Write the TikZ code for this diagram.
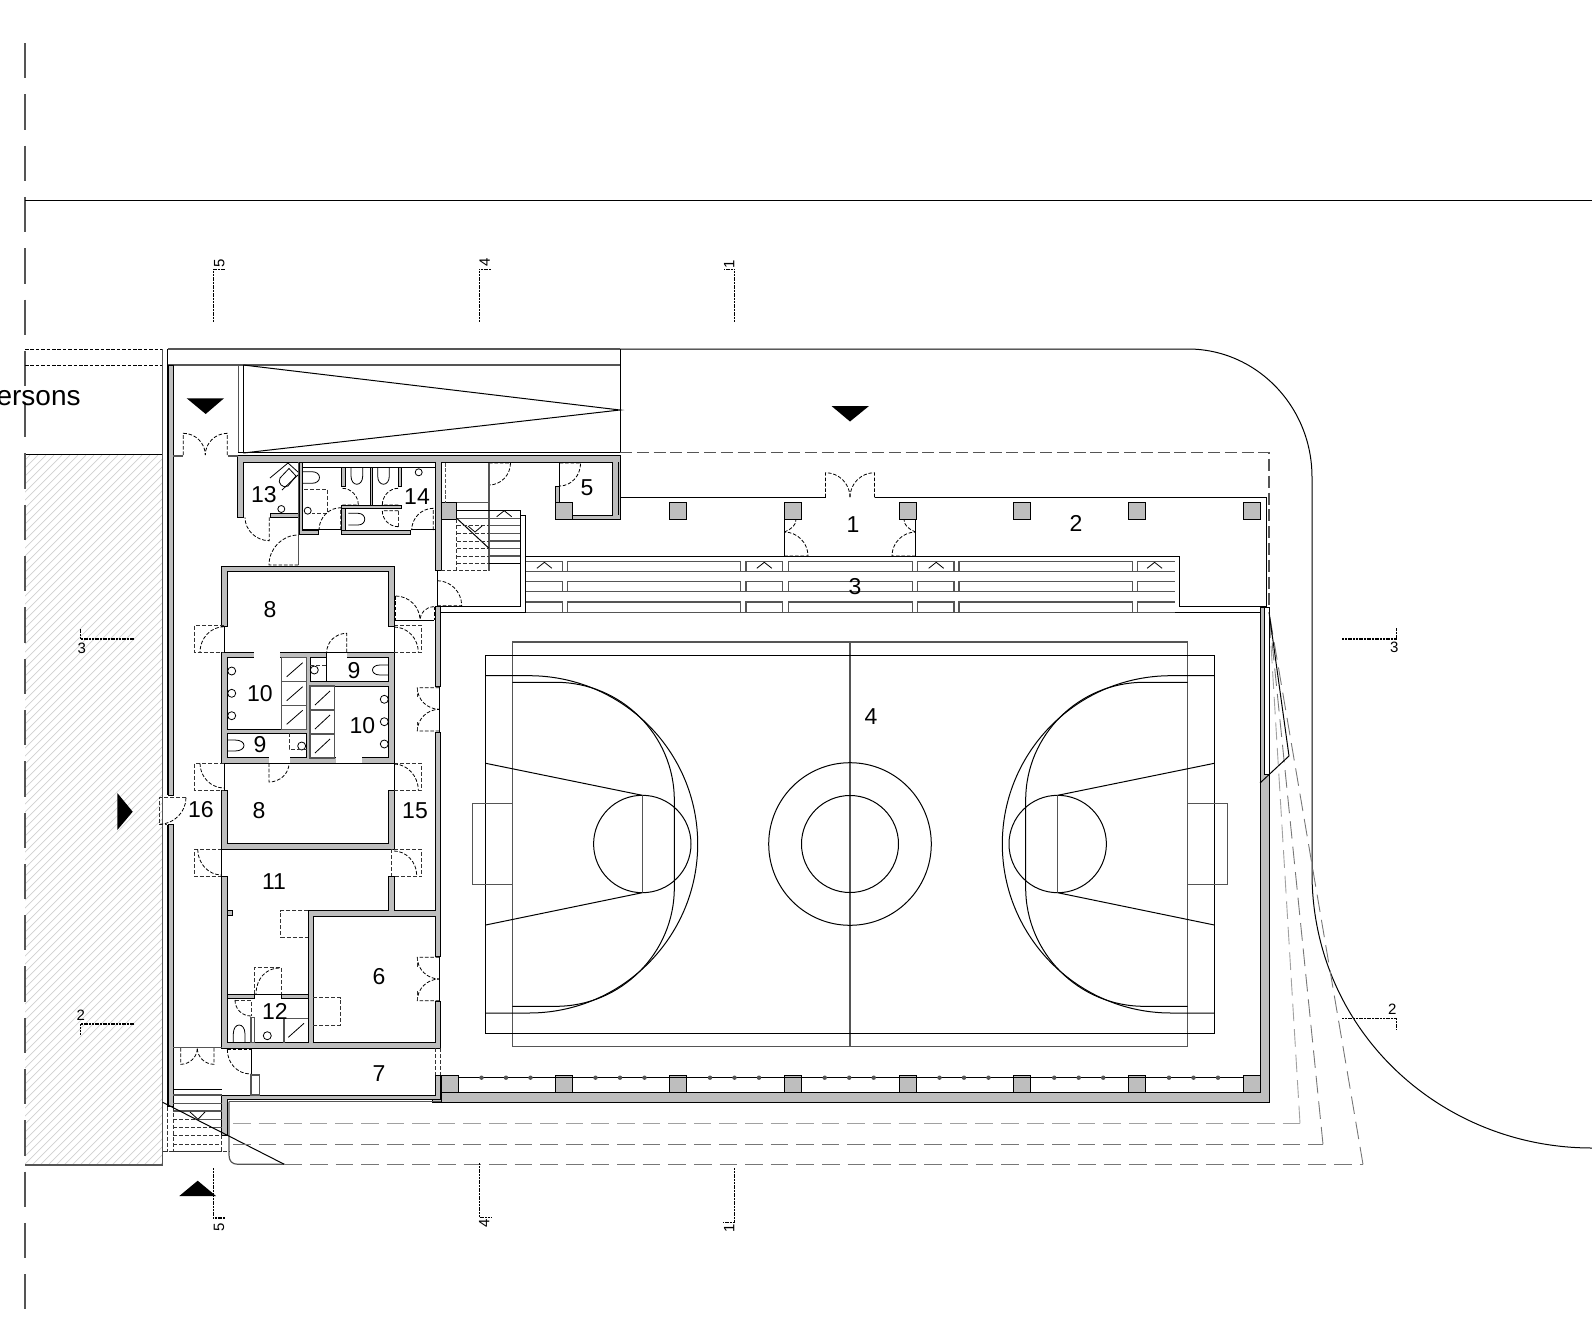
\documentclass[tikz,border=0pt]{standalone}
\usepackage{fontspec}
\setmainfont{Liberation Sans}
\definecolor{wallgrey}{HTML}{BEBEBE}
\definecolor{linegrey}{HTML}{555555}
\definecolor{hatchgrey}{HTML}{D0D0D0}
\tikzset{
  wall/.style={draw=black,fill=wallgrey,line width=0.42pt,line join=miter},
  thinline/.style={draw=black,line width=0.5pt},
  greyline/.style={draw=linegrey,line width=0.6pt},
  swing/.style={draw=black,line width=0.4pt,dash pattern={on 1.8pt off 0.9pt}},
  dashbox/.style={draw=black!80,line width=0.4pt,dash pattern={on 2pt off 1pt}},
  fixture/.style={draw=black,line width=0.4pt},
  sectionline/.style={draw=black,line width=0.7pt,dash pattern={on 1pt off 0.35pt}},
  roofdash/.style={draw=linegrey,line width=0.6pt,dash pattern={on 6pt off 2.4pt}},
  fandash/.style={draw=linegrey!80,line width=0.45pt,dash pattern={on 8.8pt off 4pt}},
  roomlabel/.style={font=\fontsize{11.5}{13}\selectfont,inner sep=0pt,yshift=-0.5pt},
  seclabel/.style={font=\fontsize{7.5}{8}\selectfont,inner sep=0pt},
  marker/.style={fill=black,draw=none},
}
% quarter door: hinge, leaf tip, swing end
\newcommand{\door}[6]{\draw[swing] (#1,#2) -- (#3,#4) .. controls (#3+0.55*#5-0.55*#1,#4+0.55*#6-0.55*#2) and (#5+0.55*#3-0.55*#1,#6+0.55*#4-0.55*#2) .. (#5,#6);}
\begin{document}
\begin{tikzpicture}[x=0.5pt,y=0.5pt,yscale=-1,xscale=1]
    \useasboundingbox (0,0) rectangle (1592,1339);

    %Hatched neighbour plot
    \begin{scope}
    \clip (25,454.3) rectangle (162.7,1165);
    \foreach \h in {-704,-696,...,160} \draw[draw=hatchgrey,line width=0.35pt] (\h,1165) -- (\h+710,455);
    \end{scope}
    \draw[thinline] (25,454.3) -- (162.7,454.3);
    \draw[greyline] (25,1165) -- (162.7,1165);

    %Axis and street line
    \draw[draw=linegrey,line width=0.6pt,dash pattern={on 17.65pt off 8pt}] (25,43) -- (25,1309);
    \draw[thinline] (25,200.5) -- (1592,200.5);

    %Site outline
    \draw[thinline] (620,349) -- (1188,349) .. controls (1256,349) and (1312,406) .. (1312,477) -- (1312,873) .. controls (1312,1030) and (1440,1148) .. (1592,1148);

    %Entrance strip
    \draw[swing] (25,349) -- (162.3,349) (25,365) -- (162.3,365);
    \draw[greyline] (162.5,349) -- (162.5,1165);
    \draw[thinline] (167.7,349) -- (167.7,795);
    \draw[thinline] (167.7,824.7) -- (167.7,1106.7);
    \draw[greyline] (167.7,349) -- (620,349);
    \draw[greyline] (167.7,365) -- (620,365);
    \draw[thinline] (620,349) -- (620,452.7);
    \draw[wall] (168.3,365) rectangle (173.3,795);
    \draw[wall] (168.3,824.7) rectangle (173.3,1106.7);

    %Ramp
    \draw[greyline] (238.3,365) -- (238.3,453);
    \draw[thinline] (243.3,365) -- (243.3,453);
    \draw[thinline] (243.3,365) -- (620,410) -- (243.3,453);
    \draw[thinline] (238,452.7) -- (620,452.7);

    %Wall rooms 13, 14, 5
    \draw[wall] (237.7,517.3) -- (237.7,455.7) -- (620,455.7) -- (620,519.3) -- (572,519.3) -- (572,515) -- (612,515) -- (612,462) -- (441,462) -- (441,570.7) -- (435,570.7) -- (435,462) -- (243.3,462) -- (243.3,517.3) -- cycle;
    \draw[thinline] (618,462) -- (618,515);
    \draw[wall] (270,513.3) rectangle (298.3,517.3);
    \draw[wall] (299,534) -- (299,462) -- (302.7,462) -- (302.7,530) -- (318,530) -- (318,534) -- cycle;
    \draw[thinline] (302.7,467.3) -- (435,467.3);
    \draw[greyline] (298.3,462) -- (298.3,565);
    \draw[wall] (341.7,467.3) rectangle (345,486.7);
    \draw[wall] (370,467.3) rectangle (372.7,505);
    \draw[wall] (398.3,467.3) rectangle (401.7,486.7);
    \draw[wall] (341.7,505) rectangle (401.7,508.3);
    \draw[wall] (341.7,508.3) rectangle (345,530);
    \draw[wall] (341.7,530) rectangle (410.7,534);
    \draw[thinline] (410.7,529.5) -- (435,529.5);
    \draw[thinline] (302.7,529.5) -- (341.7,529.5);

    %Sanitary fittings rooms 13, 14
    \draw[fixture] (302.7,471.7) -- (312,471.7) .. controls (322,471.7) and (322,483.3) .. (312,483.3) -- (302.7,483.3);
    \draw[fixture] (351,467.3) -- (351,476) .. controls (351,487) and (362.7,487) .. (362.7,476) -- (362.7,467.3);
    \draw[fixture] (377.7,467.3) -- (377.7,476) .. controls (377.7,487) and (389.3,487) .. (389.3,476) -- (389.3,467.3);
    \draw[fixture] (348.3,513.3) -- (358,513.3) .. controls (367,513.3) and (367,525) .. (358,525) -- (348.3,525);
    \draw[fixture] (281.3,509) circle[radius=3.5];
    \draw[fixture] (307.7,510.7) circle[radius=3.5];
    \draw[fixture] (418.7,472.3) circle[radius=3.5];
    \draw[fixture] (270,478) -- (288,463) (282,490) -- (298,475) (288,463) -- (298,472);
    \draw[fixture] (280,478) -- (289,468.5) -- (296,476) -- (288,486) .. controls (283,489) and (277,483) .. (280,478);
    \draw[dashbox] (304,489) -- (327.3,489) -- (327.3,513.3) -- (312,513.3);

    %Doors rooms 13, 14, 5
    \door{269.3}{517.3}{269.3}{540.7}{245}{517.3}
    \door{340.7}{530}{340.7}{507.7}{319}{530}
    \door{342.3}{505}{358.3}{505}{342.3}{488.3}
    \door{398.3}{505}{382.3}{505}{398.3}{488.3}
    \door{398.3}{510.7}{382.3}{510.7}{398.3}{526.7}
    \draw[dashbox] (398.3,510.7) -- (398.3,526.7);
    \door{433.3}{530}{433.3}{508.3}{411.7}{530}
    \door{298.3}{565}{269}{565}{298.3}{535}
    \door{489}{463}{510.5}{463}{489}{485}
    \door{559.7}{463}{580.6}{463}{559.7}{486}
    \draw[thinline] (559.7,463) -- (559.7,486);
    \draw[wall] (555,486) rectangle (559.7,502.3);

    %Double doors north
    \door{183.3}{455}{183.3}{433.3}{205.3}{455}
    \door{227.3}{455}{227.3}{433.3}{205.3}{455}
    \draw[greyline] (173.3,456) -- (183.3,456) (228,456) -- (238.3,456);
    \door{825.5}{497.3}{825.5}{472.7}{850}{497.3}
    \door{874.5}{497.3}{874.5}{472.7}{850}{497.3}

    %Roof and gallery outline
    \draw[roofdash] (620,452.7) -- (1269,452.7) -- (1269,607);
    \draw[thinline] (620,497.3) -- (825.5,497.3) (874.5,497.3) -- (1266,497.3) -- (1266,606.7) -- (1179.6,606.7) -- (1179.6,556) -- (525.7,556);
    \draw[thinline] (441,612.5) -- (1260,612.5);

    %Columns
    \foreach \cx in {555,669.5,784.2,899,1013.7,1128.5,1243} \draw[wall] (\cx,502.3) rectangle (\cx+17,519.3);
    \foreach \cx in {441,555,669.5,784.2,899,1013.7,1128.5,1243} \draw[wall] (\cx,1075.7) rectangle (\cx+17,1092.7);
    \draw[thinline] (458,1077.7) -- (1243,1077.7);
    \foreach \cx in {458,572,686.5,801.2,916,1030.7,1145.5} \foreach \k in {1,2,3} \fill[linegrey] (\cx+\k*24.5-1,1077.7) circle[radius=2.2];

    %Foyer doors
    \draw[thinline] (784.2,519.3) -- (784.2,556) (915.8,519.3) -- (915.8,556);
    \door{784.2}{556}{808}{556}{784.2}{532}
    \draw[swing] (784.2,532) .. controls (792,529) and (796,525) .. (796,519.3);
    \door{915.8}{556}{892}{556}{915.8}{532}
    \draw[swing] (915.8,532) .. controls (908,529) and (904,525) .. (904,519.3);

    %Stand
    \foreach \ry in {571.3,591.7,612.3} \draw[greyline] (525.7,\ry) -- (1174.5,\ry);
    \foreach \ra/\rb in {561.7/571.3,581.7/591.7,602/612.3} {
      \draw[greyline] (525.7,\ra) -- (562.2,\ra) -- (562.2,\rb);
      \draw[greyline] (567.3,\rb) -- (567.3,\ra) -- (740.3,\ra) -- (740.3,\rb);
      \draw[greyline] (746,\rb) -- (746,\ra) -- (782.7,\ra) -- (782.7,\rb);
      \draw[greyline] (788.3,\rb) -- (788.3,\ra) -- (912.2,\ra) -- (912.2,\rb);
      \draw[greyline] (917.3,\rb) -- (917.3,\ra) -- (954,\ra) -- (954,\rb);
      \draw[greyline] (959,\rb) -- (959,\ra) -- (1132.7,\ra) -- (1132.7,\rb);
      \draw[greyline] (1137.8,\rb) -- (1137.8,\ra) -- (1174.5,\ra);
    }
    \foreach \cx in {544.4,764.3,936.2,1154.6} \draw[fixture] (\cx-7.5,568.3) -- (\cx,562.3) -- (\cx+7.5,568.3);

    %Main stair
    \draw[wall] (441,502.7) rectangle (456.7,519);
    \draw[swing,draw=linegrey] (445.7,463) -- (445.7,502.7);
    \draw[greyline] (489,462.7) -- (489,570.7);
    \draw[greyline] (456.7,502.7) -- (489,502.7);
    \draw[thinline] (456.7,510.7) -- (520,510.7) -- (520,606.7) -- (437.3,606.7) -- (437.3,570.7);
    \foreach \sy in {518.3,525.7,533.3,541,548.3} \draw[greyline] (489,\sy) -- (520,\sy);
    \foreach \sy in {556,563.3} \draw[greyline] (489,\sy) -- (520,\sy);
    \draw[greyline] (456.7,518.3) -- (489,518.3);
    \draw[thinline] (489,563.3) -- (520,563.3);
    \draw[thinline] (456.7,518.3) -- (489,548.3);
    \draw[dashbox] (456.7,519) -- (456.7,570.7) (441,570.7) -- (489,570.7);
    \foreach \sy in {525.7,533.3,541,548.3,556,563.3} \draw[dashbox] (456.7,\sy) -- (489,\sy);
    \draw[fixture] (468,526) -- (475,532) -- (482,526);
    \draw[fixture] (496.7,516.7) -- (504.2,510.7) -- (511.7,516.7);
    \draw[thinline] (520,515) -- (525.7,515) -- (525.7,612.5);
    \door{437.3}{605.7}{461.7}{605.7}{437.3}{580.7}

    %Room 8 north
    \draw[wall] (221.7,626) -- (221.7,566) -- (394.3,566) -- (394.3,626) -- (388.7,626) -- (388.7,571.7) -- (227.3,571.7) -- (227.3,626) -- cycle;

    %Core with rooms 9, 10
    \draw[wall,even odd rule] (221.7,652.3) -- (394.3,652.3) -- (394.3,763.3) -- (221.7,763.3) -- cycle
      (227.3,657.7) rectangle (306.7,729)
      (227.3,733.3) rectangle (306.7,757.7)
      (310,657.7) rectangle (388.7,681.7)
      (310,686) rectangle (388.7,757.7);
    \fill[white] (253.8,651) rectangle (279.6,658.2);
    \fill[white] (326.4,651) rectangle (346.9,658.2);
    \fill[white] (268.7,757.2) rectangle (289.6,764);
    \fill[white] (336.4,757.2) rectangle (362.3,764);
    \draw[thinline] (326,652.3) -- (347.3,652.3) (268.3,763.3) -- (290,763.3) (336,763.3) -- (362.7,763.3);
    \draw[thinline] (326.3,652.3) -- (326.3,681.7);
    \foreach \a in {657.7,681.7,705.3} {
      \draw[greyline] (281.7,\a) rectangle (306.7,\a+24);
      \draw[fixture] (286.7,\a+19) -- (302.7,\a+5);
    }
    \foreach \a in {686,710,734} {
      \draw[greyline] (310,\a) rectangle (334.3,\a+24);
      \draw[fixture] (315,\a+19) -- (330,\a+5);
    }
    \foreach \a in {671,693.3,715.7} \draw[fixture] (231.7,\a) circle[radius=4];
    \foreach \a in {699.3,721.7,744} \draw[fixture] (384.3,\a) circle[radius=4];
    \draw[fixture] (314.3,670) circle[radius=4];
    \draw[fixture] (301.7,746) circle[radius=4];
    \draw[fixture] (388.7,665) -- (380,665) .. controls (370,665) and (370,675) .. (380,675) -- (388.7,675);
    \draw[fixture] (227.3,740) -- (235,740) .. controls (247,740) and (247,751) .. (235,751) -- (227.3,751);
    \draw[dashbox] (310,665) -- (326,665);
    \draw[dashbox] (289.3,733.3) -- (289.3,749.3) -- (306.7,749.3);
    \door{346.7}{652.3}{346.7}{633.3}{326.7}{652.3}
    \door{269}{763.3}{269}{782}{289}{763.3}

    %Room 8 south
    \draw[wall] (221.7,790) -- (227.3,790) -- (227.3,843.3) -- (388.7,843.3) -- (388.7,790) -- (394.3,790) -- (394.3,849.3) -- (221.7,849.3) -- cycle;

    %Doors of rooms 8
    \draw[dashbox] (224,625.3) -- (194.3,625.3) -- (194.3,652.3) -- (224,652.3);
    \draw[swing] (224,626.7) .. controls (211,626.7) and (200,638) .. (200,652.3);
    \draw[thinline] (224,626) -- (224,652.3);
    \draw[dashbox] (394.3,625.3) -- (421.7,625.3) -- (421.7,652.3) -- (394.3,652.3);
    \draw[swing] (394.3,627) .. controls (407,627) and (418.3,638) .. (418.3,652.3);
    \draw[thinline] (394.3,626) -- (394.3,652.3);
    \draw[dashbox] (224,763.3) -- (194.3,763.3) -- (194.3,790) -- (224,790);
    \draw[swing] (200,763.3) .. controls (200,777) and (211,788) .. (224,788);
    \draw[thinline] (224,763.3) -- (224,790);
    \draw[dashbox] (394.3,763.3) -- (421.7,763.3) -- (421.7,790) -- (394.3,790);
    \draw[swing] (394.3,764) .. controls (407,764) and (418.3,776) .. (418.3,790);
    \draw[thinline] (394.3,763.3) -- (394.3,790);
    \draw[dashbox] (221.7,849.3) -- (194.3,849.3) -- (194.3,876.7) -- (221.7,876.7);
    \draw[swing] (197.7,849.3) .. controls (197.7,863) and (208,875) .. (221.7,875);
    \draw[thinline] (221.7,849.3) -- (221.7,876);
    \draw[dashbox] (391.7,876.7) -- (391.7,849.3) -- (421.7,849.3) -- (421.7,876.7) -- (391.7,876.7);
    \draw[swing] (394,851) .. controls (406,851) and (416.7,862) .. (416.7,875);
    \draw[swing] (395.7,596) .. controls (409,596) and (420,607) .. (420,620);
    \draw[swing] (395.7,596) -- (395.7,620);
    \draw[swing] (434,606.7) .. controls (426,606.7) and (420,613) .. (420,620);
    \draw[swing] (434,606.7) -- (434,620);
    \draw[thinline] (394.3,620) -- (434,620) (394.3,620) -- (394.3,626);

    %Wall rooms 11, 6, 12
    \draw[wall] (221.7,876) -- (227.3,876) -- (227.3,1042.7) -- (308.3,1042.7) -- (308.3,910.7) -- (388.7,910.7) -- (388.7,876) -- (394.3,876) -- (394.3,910.7) -- (435,910.7) -- (435,732.7) -- (440.7,732.7) -- (440.7,956.7) -- (435,956.7) -- (435,916) -- (313.3,916) -- (313.3,1042.7) -- (435,1042.7) -- (435,1001.7) -- (440.7,1001.7) -- (440.7,1048.3) -- (221.7,1048.3) -- cycle;
    \draw[wall] (227.3,910) rectangle (232.3,915.7);
    \draw[wall] (435,606.7) rectangle (440.7,686);
    \draw[wall] (227.3,994) rectangle (254.3,998);
    \draw[wall] (281,994) rectangle (308.3,998);
    \draw[dashbox] (308.3,910.7) -- (280.7,910.7) -- (280.7,937.3) -- (308.3,937.3);
    \draw[dashbox] (313.3,997.7) -- (340.7,997.7) -- (340.7,1025) -- (313.3,1025);
    \draw[dashbox] (254.3,994) -- (254.3,967.3) -- (281,967.3) -- (281,994);
    \draw[swing] (279.3,968) .. controls (266,968) and (256,979) .. (256,994);
    \draw[thinline] (254.3,994) -- (281,994);
    \draw[dashbox] (235,1000) -- (251,1000) -- (251,1016);
    \draw[swing] (235,1000) .. controls (235,1009) and (242,1016) .. (251,1016);
    \draw[greyline] (251,1017.3) rectangle (254.3,1042.7);
    \draw[fixture] (233.3,1042.7) -- (233.3,1034) .. controls (233.3,1022) and (245,1022) .. (245,1034) -- (245,1042.7);
    \draw[fixture] (267.3,1035.7) circle[radius=4];
    \draw[greyline] (284,1042.7) -- (284,1018.3) -- (308.3,1018.3);
    \draw[fixture] (288.3,1037.3) -- (304,1023.3);

    %East doors of block
    \door{439.3}{687.7}{417.3}{687.7}{439.3}{709.3}
    \door{439.3}{731}{417.3}{731}{439.3}{709.3}
    \draw[dashbox] (417.3,687.7) -- (417.3,697) (417.3,731) -- (417.3,722);
    \draw[thinline] (439.3,686) -- (439.3,733);
    \door{439.3}{957.3}{417.3}{957.3}{439.3}{979}
    \door{439.3}{1000.7}{417.3}{1000.7}{439.3}{979}
    \draw[dashbox] (417.3,957.3) -- (417.3,967) (417.3,1000.7) -- (417.3,991);
    \draw[thinline] (439.3,956.7) -- (439.3,1001.7);
    \draw[dashbox] (435,1048.3) -- (435,1075) (440.7,1048.3) -- (440.7,1075);

    %Entrance door west
    \draw[dashbox] (186,797.7) -- (159,797.7) -- (159,824.3) -- (167,824.3);
    \draw[swing] (186,797.7) .. controls (186,812) and (174,824.3) .. (159,824.3);

    %South of block
    \draw[wall] (221.7,1095) -- (435,1095) -- (435,1075) -- (440.7,1075) -- (440.7,1099.3) -- (227.3,1099.3) -- (227.3,1135) -- (221.7,1135) -- cycle;
    \draw[wall] (432,1099.3) rectangle (441,1102);
    \draw[greyline] (229,1101.7) -- (440.7,1101.7);
    \draw[thinline] (251,1049.3) -- (251,1074);
    \draw[swing] (227.3,1049.3) -- (251,1049.3);
    \draw[swing] (227.3,1049.3) .. controls (227.3,1063) and (237,1074) .. (251,1074);
    \draw[greyline] (251,1075) rectangle (259.3,1095);
    \door{180.7}{1048}{180.7}{1064.3}{197.3}{1048}
    \door{214}{1048}{214}{1064.3}{197.3}{1048}
    \draw[greyline] (173.3,1047.3) -- (221.7,1047.3);

    %West stair
    \foreach \sy in {1089.3,1095,1103.3,1111} \draw[greyline] (173.3,\sy) -- (221.7,\sy);
    \draw[greyline] (196,1119.3) -- (221.7,1119.3) (212.5,1127.7) -- (221.7,1127.7);
    \draw[dashbox] (173.3,1119.3) -- (196,1119.3) (173.3,1127.7) -- (212.5,1127.7);
    \foreach \sy in {1135.7,1144,1151.7} \draw[dashbox] (173.3,\sy) -- (221.7,\sy);
    \draw[thinline] (173.3,1089.3) -- (221.7,1089.3);
    \draw[dashbox] (167.3,1106.7) -- (167.3,1151.7) (173.3,1106.7) -- (173.3,1151.7) (221.7,1135) -- (221.7,1151.7);
    \draw[dashbox] (162.7,1151.7) -- (229,1151.7);
    \draw[fixture] (190,1112) -- (198,1119.3) -- (205,1112);

    %Canopy edge south
    \draw[greyline] (229,1101.7) -- (229,1155) .. controls (229,1161) and (232,1164.3) .. (238,1164.3) -- (284.3,1164.3);
    \draw[thinline] (162.7,1102.3) -- (284.3,1164.3);
    \draw[fandash,draw=linegrey!55] (233,1123.3) -- (1300,1123.3);
    \draw[fandash] (233,1144.3) -- (1323,1144.3);
    \draw[fandash] (284.3,1164.3) -- (1363,1164.3);
    \draw[fandash,draw=linegrey!55] (1300,1123.3) -- (1269,612);
    \draw[fandash] (1323,1144.3) -- (1269,612);
    \draw[fandash] (1363,1164.3) -- (1269,612);

    %East wall
    \draw[wall] (1260,607) -- (1264.3,607) -- (1264.3,774) -- (1269,774) -- (1269,1102) -- (441,1102) -- (441,1092.7) -- (1260,1092.7) -- cycle;
    \draw[thinline] (1264.3,607) rectangle (1269,774);
    \draw[thinline] (1260,783) -- (1289,756) -- (1269,612);

    %Court
    \draw[greyline] (512.3,642) rectangle (1187.7,1046.7);
    \draw[greyline] (850,642) -- (850,1046.7);
    \draw[thinline] (485.7,655.3) rectangle (1214.3,1033.3);
    \draw[thinline] (850,844) circle[radius=48.5];
    \draw[thinline] (850,844) circle[radius=81.3];
    \draw[thinline] (642.3,844) circle[radius=48.7];
    \draw[thinline] (1057.7,844) circle[radius=48.7];
    \foreach \mx/\sg in {0/1,1700/-1} {
      \draw[thinline] (\mx+\sg*485.7,675.7) -- (\mx+\sg*529,675.7) .. controls (\mx+\sg*622,675.7) and (\mx+\sg*697.7,751) .. (\mx+\sg*697.7,844) .. controls (\mx+\sg*697.7,937) and (\mx+\sg*622,1013) .. (\mx+\sg*529,1013) -- (\mx+\sg*485.7,1013);
      \draw[thinline] (\mx+\sg*512.3,682.3) -- (\mx+\sg*556,682.3) .. controls (\mx+\sg*621,682.3) and (\mx+\sg*674.3,735) .. (\mx+\sg*674.3,800) -- (\mx+\sg*674.3,888) .. controls (\mx+\sg*674.3,953) and (\mx+\sg*621,1006.3) .. (\mx+\sg*556,1006.3) -- (\mx+\sg*512.3,1006.3);
      \draw[greyline] (\mx+\sg*642.3,795.3) -- (\mx+\sg*642.3,892.7);
      \draw[thinline] (\mx+\sg*485.7,763.3) -- (\mx+\sg*642.3,795.3);
      \draw[thinline] (\mx+\sg*485.7,925) -- (\mx+\sg*642.3,892.7);
      \draw[greyline] (\mx+\sg*512.3,803.3) -- (\mx+\sg*472.3,803.3) -- (\mx+\sg*472.3,884.7) -- (\mx+\sg*512.3,884.7);
    }

    %Section marks
    \draw[sectionline] (213.6,321.7) -- (213.6,269.3) -- (224.6,269.3);
    \draw[sectionline] (479.3,321.7) -- (479.3,269.3) -- (490.7,269.3);
    \draw[sectionline] (734.6,321.7) -- (734.6,269.3) -- (724,269.3);
    \draw[sectionline] (213.3,1168.3) -- (213.3,1218) -- (224.6,1218);
    \draw[sectionline] (479.7,1163.3) -- (479.7,1217.3) -- (490.7,1217.3);
    \draw[sectionline] (734.3,1168.3) -- (734.3,1222.7) -- (723.3,1222.7);
    \draw[sectionline] (134.3,639) -- (80.7,639) -- (80.7,628.3);
    \draw[sectionline] (134.3,1024) -- (80.7,1024) -- (80.7,1035);
    \draw[sectionline] (1342.3,639) -- (1396.7,639) -- (1396.7,628);
    \draw[sectionline] (1342.3,1018.7) -- (1396.7,1018.7) -- (1396.7,1030);

    %Entrance markers
    \fill[marker] (186.7,398.3) -- (224,398.3) -- (205.7,414) -- cycle;
    \fill[marker] (831.5,406) -- (869,406) -- (850,421.5) -- cycle;
    \fill[marker] (117.3,793) -- (117.3,830) -- (132.7,811.7) -- cycle;
    \fill[marker] (179.3,1196) -- (216,1196) -- (197.7,1180.7) -- cycle;

    % Text Node
    \node[roomlabel] (room1) at (853,524) {1};
    \node[roomlabel] (room2) at (1076,522) {2};
    \node[roomlabel] (room3) at (855,586) {3};
    \node[roomlabel] (room4) at (871,716) {4};
    \node[roomlabel] (room5) at (587,487) {5};
    \node[roomlabel] (room6) at (379,976) {6};
    \node[roomlabel] (room7) at (379,1073) {7};
    \node[roomlabel] (room8a) at (270,609) {8};
    \node[roomlabel] (room8b) at (259,810) {8};
    \node[roomlabel] (room9a) at (354,670) {9};
    \node[roomlabel] (room9b) at (260,744) {9};
    \node[roomlabel] (room10a) at (260,693) {10};
    \node[roomlabel] (room10b) at (362.5,725) {10};
    \node[roomlabel] (room11) at (274,881) {11};
    \node[roomlabel] (room12) at (275,1010) {12};
    \node[roomlabel] (room13) at (264,494) {13};
    \node[roomlabel] (room14) at (417,495.5) {14};
    \node[roomlabel] (room15) at (415,810) {15};
    \node[roomlabel] (room16) at (201,809) {16};
    \node[anchor=base east,inner sep=0pt,font=\fontsize{14}{15}\selectfont] (capacity) at (81,405) {ersons};
    % Text Node
    \node[seclabel,rotate=90] (sec5a) at (219.3,263.3) {5};
    \node[seclabel,rotate=90] (sec4a) at (484.6,262.7) {4};
    \node[seclabel,rotate=90] (sec1a) at (729.3,264) {1};
    \node[seclabel,rotate=90] (sec5b) at (219,1227) {5};
    \node[seclabel,rotate=90] (sec4b) at (484.3,1223.3) {4};
    \node[seclabel,rotate=90] (sec1b) at (729.3,1228.3) {1};
    \node[seclabel] (sec3a) at (81.7,648.3) {3};
    \node[seclabel] (sec2a) at (80.7,1015) {2};
    \node[seclabel] (sec3b) at (1394.3,647) {3};
    \node[seclabel] (sec2b) at (1392.3,1009) {2};
\end{tikzpicture}
\end{document}
